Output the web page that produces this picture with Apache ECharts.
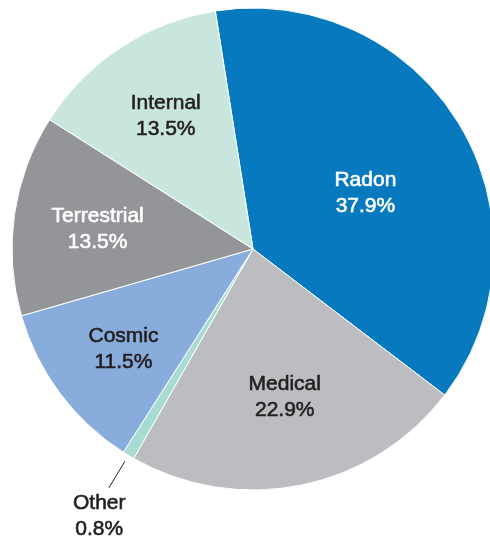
<!DOCTYPE html>
<html>
<head>
<meta charset="utf-8">
<style>
  html, body { margin: 0; padding: 0; background: #ffffff; }
  #chart { width: 490px; height: 542px; }
</style>
<script src="https://cdn.jsdelivr.net/npm/echarts@6/dist/echarts.min.js"></script>
</head>
<body>
<div id="chart"></div>
<script>
// Sources of radiation exposure, share of annual dose (%)
const categories = ['Radon', 'Medical', 'Other', 'Cosmic', 'Terrestrial', 'Internal'];
const shares = [37.9, 22.9, 0.8, 11.5, 13.5, 13.5];

// Slice fills and label colours, in category order
const sliceColors = ['#0679bf', '#bcbdc1', '#a6dcd2', '#88acdb', '#939598', '#c8e6dd'];
const labelColors = ['#ffffff', '#231f20', '#231f20', '#231f20', '#ffffff', '#231f20'];

// Label placement: distance from the centre as a fraction of the radius,
// and a small angular nudge (degrees) off the slice's mid-angle
const labelRadius = [0.52, 0.627, 1.28, 0.68, 0.65, 0.66];
const labelAngleShift = [-4.6, 0.6, 1.2, 1.0, 0.8, 0];

const CX = 253, CY = 249, R = 241, START = 99;

const total = shares.reduce((a, b) => a + b, 0);
const midAngles = [];
let acc = 0;
shares.forEach(v => {
  midAngles.push(START - (acc + v / 2) / total * 360);
  acc += v;
});

function polar(angleDeg, r) {
  const a = angleDeg * Math.PI / 180;
  return [CX + r * Math.cos(a), CY - r * Math.sin(a)];
}

const chart = echarts.init(document.getElementById('chart'), null, { renderer: 'canvas' });

const data = categories.map((name, i) => ({
  name: name,
  value: shares[i],
  itemStyle: { color: sliceColors[i] },
  label: {
    position: i === 2 ? 'outside' : 'inside',
    color: labelColors[i],
    // a hairline stroke in the text colour gives the labels a medium weight
    textBorderColor: labelColors[i],
    textBorderWidth: 0.6
  },
  labelLine: { show: i === 2 }
}));

chart.setOption({
  animation: false,
  series: [{
    type: 'pie',
    center: [CX, CY],
    radius: [0, R],
    startAngle: START,
    clockwise: true,
    avoidLabelOverlap: false,
    emphasis: { disabled: true },
    itemStyle: { borderColor: '#ffffff', borderWidth: 1 },
    label: {
      show: true,
      formatter: p => p.name + '\n' + p.value.toFixed(1) + '%',
      fontFamily: '"Liberation Sans", Arial, Helvetica, sans-serif',
      fontSize: 21,
      lineHeight: 26,
      align: 'center'
    },
    labelLine: {
      lineStyle: { color: '#231f20', width: 1 },
      smooth: false
    },
    labelLayout: function (params) {
      const i = params.dataIndex;
      const ang = midAngles[i] + labelAngleShift[i];
      const p = polar(ang, labelRadius[i] * R);
      const out = { x: p[0], y: p[1], align: 'center', verticalAlign: 'middle' };
      if (i === 2) {
        const a = polar(midAngles[i], R + 7);
        const b = polar(midAngles[i], R + 38);
        out.labelLinePoints = [a, b, b];
      }
      return out;
    },
    data: data
  }]
});
</script>
</body>
</html>
